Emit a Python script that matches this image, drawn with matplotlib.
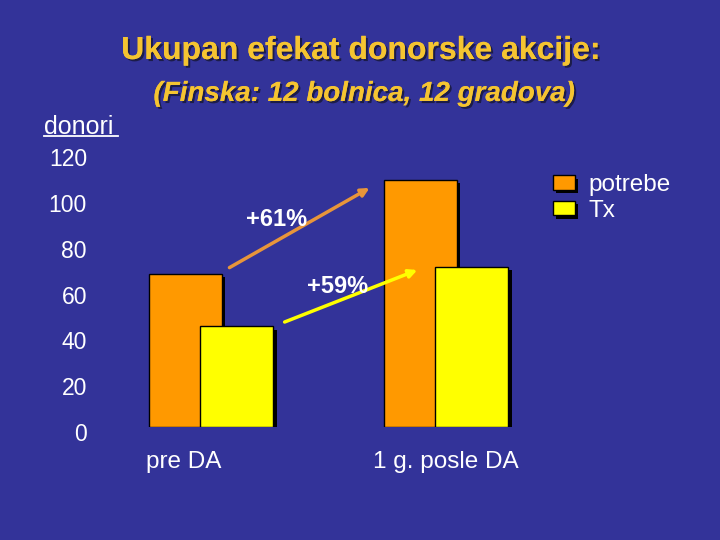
import numpy as np
import matplotlib.pyplot as plt
import matplotlib.patheffects as pe
from matplotlib.transforms import ScaledTranslation

plt.rcParams['font.family'] = ['Liberation Sans', 'DejaVu Sans']

# podaci
groups = ['pre DA', '1 g. posle DA']
potrebe = [67, 108]
tx = [44, 70]
yticks = [0, 20, 40, 60, 80, 100, 120]

bg = '#333399'
c_orange = '#FF9900'
c_yellow = '#FFFF00'
c_title = '#F5C431'

fig = plt.figure(figsize=(7.2, 5.4), dpi=100, facecolor=bg)
ax = fig.add_axes([130/720, 113/540, 410/720, 125*2.29/540])
ax.set_facecolor(bg)
for s in ax.spines.values():
    s.set_visible(False)

x = np.arange(len(groups))
w = 0.31
off = 0.11
bar_shadow = [pe.SimplePatchShadow(offset=(2.5, -2.5), shadow_rgbFace='black', alpha=1), pe.Normal()]
b1 = ax.bar(x - off, potrebe, w, color=c_orange, edgecolor='black', lw=1, zorder=2, label='potrebe')
b2 = ax.bar(x + off, tx, w, color=c_yellow, edgecolor='black', lw=1, zorder=3, label='Tx')
for b in list(b1) + list(b2):
    b.set_path_effects(bar_shadow)

ax.set_xlim(-0.345, 1.4)
ax.set_ylim(0, 125)
ax.set_yticks(yticks)
ax.set_yticklabels([str(t) for t in yticks], color='white', fontsize=16.5)
ax.tick_params(axis='y', length=0, pad=31)
for lab in ax.get_yticklabels():
    lab.set_transform(lab.get_transform() + ScaledTranslation(0, -5/100, fig.dpi_scale_trans))
ax.set_xticks(x)
ax.set_xticklabels(groups, color='white', fontsize=17.5)
ax.tick_params(axis='x', length=0, pad=17.5)
xl = ax.get_xticklabels()
xl[0].set_transform(xl[0].get_transform() + ScaledTranslation(-27/100, 0, fig.dpi_scale_trans))

# strelice
ax.annotate('', xy=(0.685, 105), xytext=(0.068, 69),
            arrowprops=dict(arrowstyle='-|>', color='#E8953A', lw=2.5, mutation_scale=12), zorder=4)
ax.annotate('', xy=(0.889, 69), xytext=(0.302, 45.4),
            arrowprops=dict(arrowstyle='-|>', color=c_yellow, lw=2.5, mutation_scale=12), zorder=4)
ax.text(0.279, 90.5, '+61%', color='white', fontsize=17, fontweight='bold',
        ha='center', va='center', zorder=5)
ax.text(0.54, 61.5, '+59%', color='white', fontsize=17, fontweight='bold',
        ha='center', va='center', zorder=5)

leg = ax.legend(loc='upper left', frameon=False,
                fontsize=17.5, handlelength=0.9, handleheight=0.55, labelspacing=0.15,
                borderaxespad=0, borderpad=0, handletextpad=0.55)
for t in leg.get_texts():
    t.set_color('white')
leg.set_bbox_to_anchor((553/720, 1 - 174/540), transform=fig.transFigure)

shadow = [pe.withSimplePatchShadow(offset=(1.5, -1.5), shadow_rgbFace='#1a1a40', alpha=0.9), pe.Normal()]
fig.text(361/720, 1 - 51/540, 'Ukupan efekat donorske akcije:', color=c_title,
         fontsize=23, fontweight='bold', ha='center', va='center', path_effects=shadow)
fig.text(364/720, 1 - 94/540, '(Finska: 12 bolnica, 12 gradova)', color=c_title,
         fontsize=20, fontweight='bold', style='italic', ha='center', va='center', path_effects=shadow)
fig.text(44/720, 1 - 127/540, 'donori', color='white', fontsize=18,
         ha='left', va='center')
fig.add_artist(plt.Line2D([44/720, 118/720], [1 - 136/540, 1 - 136/540], color='white', lw=1.3))

fig.savefig('out.png', dpi=100, facecolor=bg)
